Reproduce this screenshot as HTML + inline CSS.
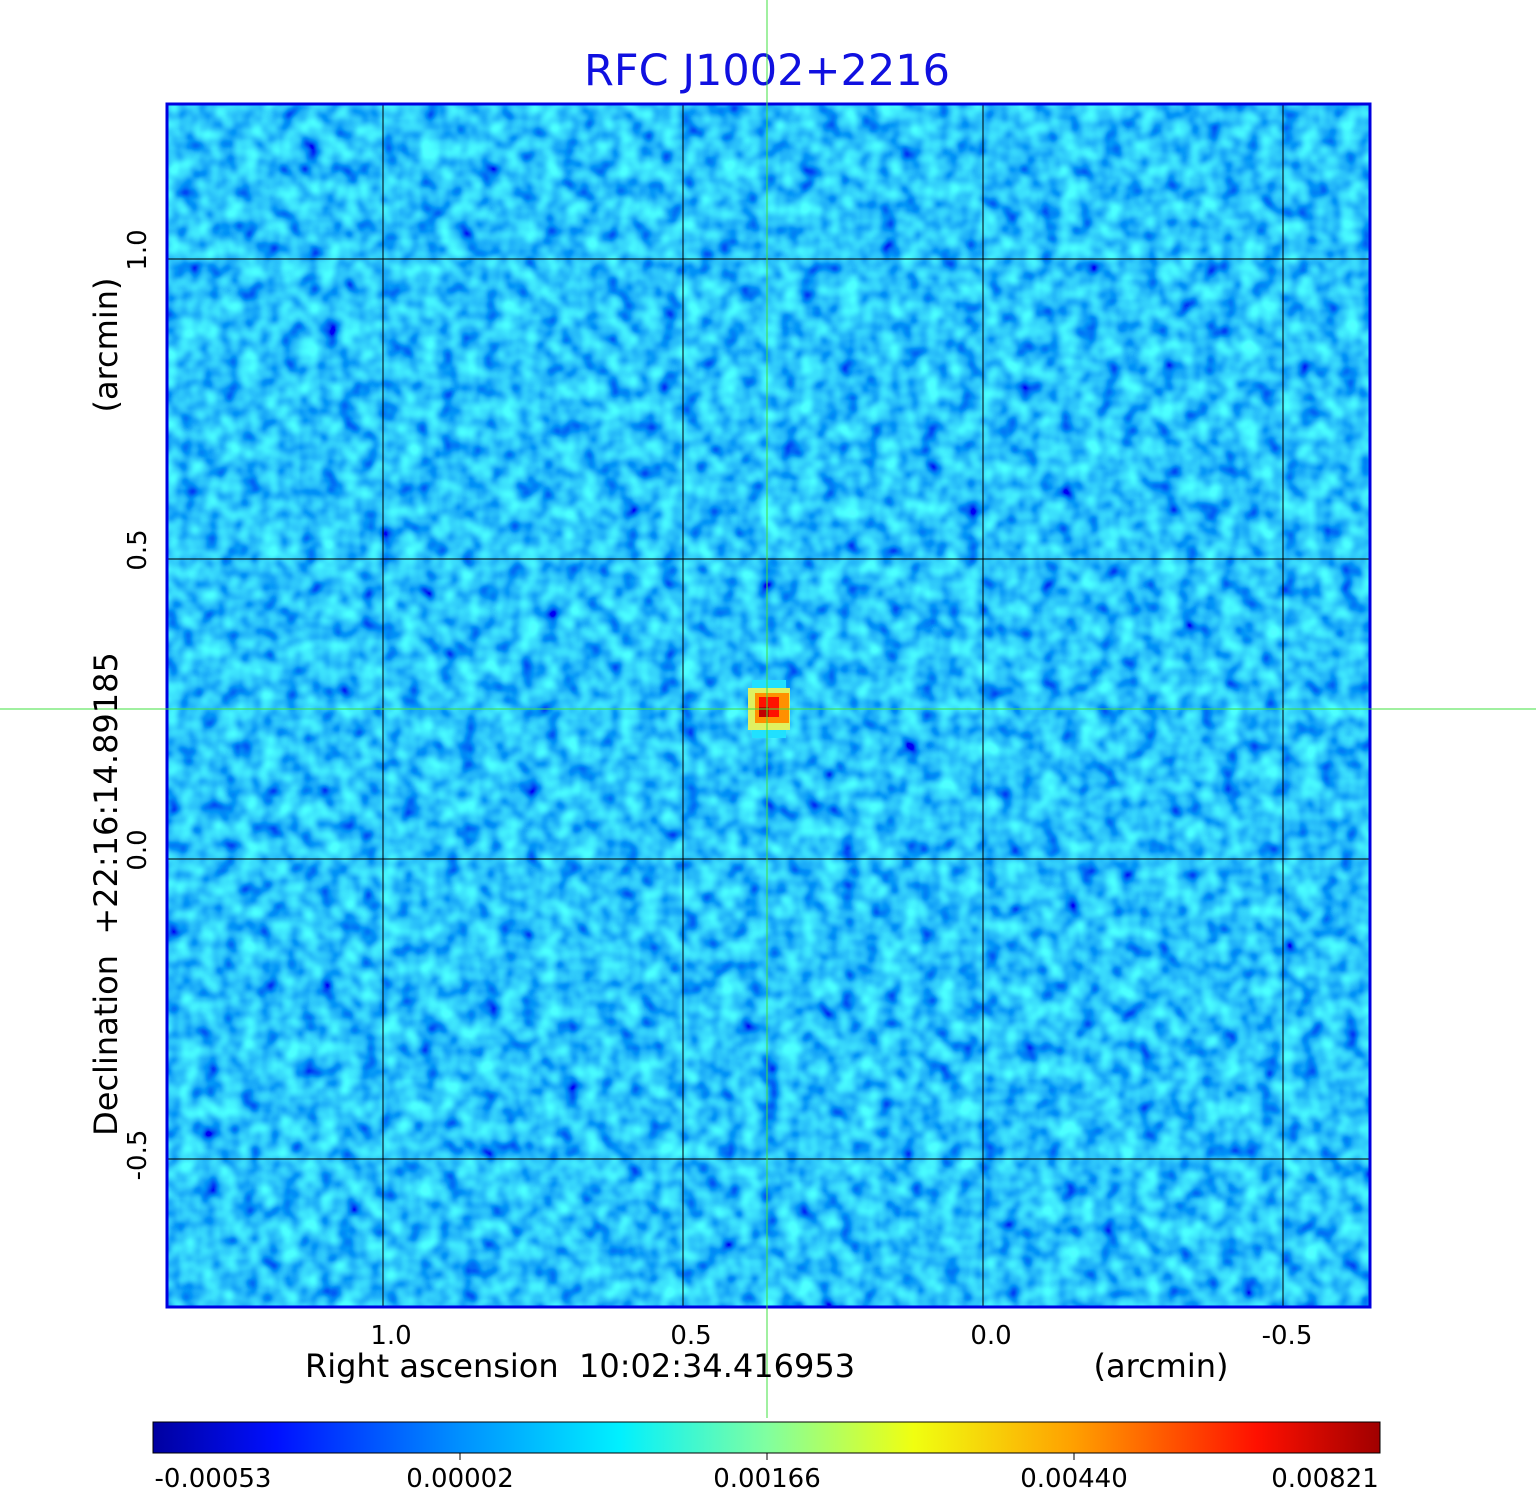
<!DOCTYPE html>
<html><head><style>
body{margin:0;background:#fff;}
svg{display:block;font-family:"DejaVu Sans","Liberation Sans",sans-serif;}
</style></head><body>
<svg width="1536" height="1511" viewBox="0 0 1536 1511" xmlns="http://www.w3.org/2000/svg">
<defs>
<filter id="n" x="167" y="104" width="1203" height="1203" filterUnits="userSpaceOnUse">
<feTurbulence type="fractalNoise" baseFrequency="0.05" numOctaves="2" seed="3" result="t"/>
<feColorMatrix in="t" type="matrix" values="0.15 0 0 0 -0.05  1.5 0 0 0 -0.2  0.15 0 0 0 0.88  0 0 0 0 1"/>
</filter>
<clipPath id="c"><rect x="167" y="104" width="1203" height="1203"/></clipPath>
<linearGradient id="cb" x1="0" x2="1">
<stop offset="0" stop-color="#0000a0"/>
<stop offset="0.1" stop-color="#0010ff"/>
<stop offset="0.25" stop-color="#0090ff"/>
<stop offset="0.38" stop-color="#00f0ff"/>
<stop offset="0.5" stop-color="#80ffa0"/>
<stop offset="0.62" stop-color="#f0ff10"/>
<stop offset="0.75" stop-color="#ffa000"/>
<stop offset="0.9" stop-color="#ff1000"/>
<stop offset="1" stop-color="#a00000"/>
</linearGradient>
</defs>
<text x="767" y="85" text-anchor="middle" font-size="43" fill="#1010e0">RFC J1002+2216</text>
<rect x="167" y="104" width="1203" height="1203" fill="#1e8ef5"/>
<rect x="167" y="104" width="1203" height="1203" filter="url(#n)" clip-path="url(#c)"/>
<rect x="752" y="680" width="34" height="58" fill="#20e0ff"/>
<rect x="748" y="688" width="42" height="42" fill="#e0f060"/>
<rect x="755" y="693" width="34" height="30" fill="#ff9000"/>
<rect x="759" y="697" width="20" height="20" fill="#ff1000"/>
<rect x="759" y="707" width="10" height="10" fill="#c00000"/>
<g stroke="#000" stroke-width="1">
<line x1="383" y1="104" x2="383" y2="1307"/><line x1="683" y1="104" x2="683" y2="1307"/>
<line x1="983" y1="104" x2="983" y2="1307"/><line x1="1283" y1="104" x2="1283" y2="1307"/>
<line x1="167" y1="259" x2="1370" y2="259"/><line x1="167" y1="559" x2="1370" y2="559"/>
<line x1="167" y1="859" x2="1370" y2="859"/><line x1="167" y1="1159" x2="1370" y2="1159"/>
</g>
<rect x="167" y="104" width="1203" height="1203" fill="none" stroke="#0000e0" stroke-width="3"/>
<line x1="767" y1="0" x2="767" y2="1418" stroke="#40e040" stroke-width="1"/>
<line x1="0" y1="709" x2="1536" y2="709" stroke="#40e040" stroke-width="1"/>
<g font-size="26" fill="#000" text-anchor="middle">
<text x="391" y="1344">1.0</text><text x="691" y="1344">0.5</text><text x="991" y="1344">0.0</text><text x="1287" y="1344">-0.5</text>
<text x="580" y="1377" font-size="32">Right ascension&#160;&#160;10:02:34.416953</text>
<text x="1161" y="1377" font-size="32">(arcmin)</text>
<text transform="translate(146,250) rotate(-90)">1.0</text>
<text transform="translate(146,550) rotate(-90)">0.5</text>
<text transform="translate(146,850) rotate(-90)">0.0</text>
<text transform="translate(146,1155) rotate(-90)">-0.5</text>
<text transform="translate(117,345) rotate(-90)" font-size="32">(arcmin)</text>
<text transform="translate(117,894) rotate(-90)" font-size="32">Declination&#160;&#160;+22:16:14.89185</text>
</g>
<rect x="153" y="1422" width="1227" height="31" fill="url(#cb)" stroke="#000" stroke-width="1"/>
<g stroke="#000"><line x1="460" y1="1453" x2="460" y2="1460"/><line x1="767" y1="1453" x2="767" y2="1460"/><line x1="1074" y1="1453" x2="1074" y2="1460"/></g>
<g font-size="26" fill="#000" text-anchor="middle">
<text x="213" y="1487">-0.00053</text><text x="460" y="1487">0.00002</text><text x="767" y="1487">0.00166</text><text x="1074" y="1487">0.00440</text><text x="1325" y="1487">0.00821</text>
</g>
</svg>
</body></html>
